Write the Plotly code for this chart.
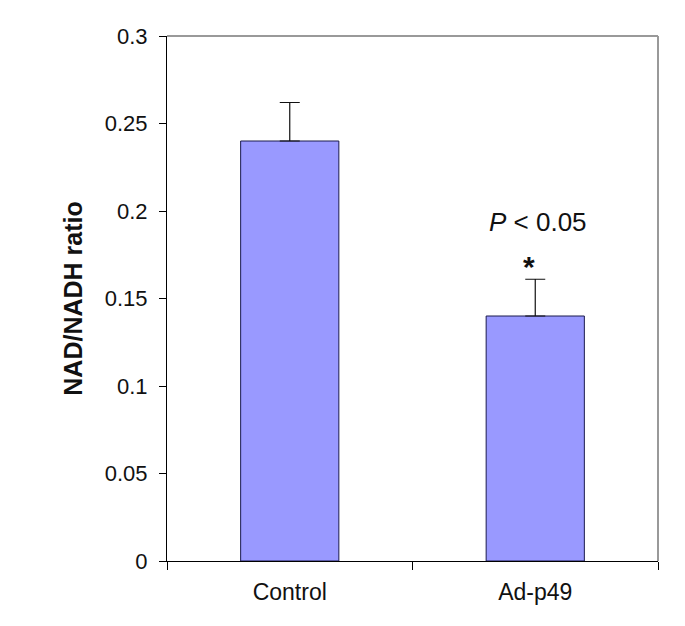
import plotly.graph_objects as go

# NAD/NADH ratio per group
groups = ["Control", "Ad-p49"]
ratio = [0.24, 0.14]
err_up = [0.022, 0.021]

y_ticks = [0, 0.05, 0.1, 0.15, 0.2, 0.25, 0.3]
y_tick_text = ["0", "0.05", "0.1", "0.15", "0.2", "0.25", "0.3"]

FONT = "Liberation Sans, Arial, sans-serif"

fig = go.Figure()
fig.add_trace(go.Bar(
    x=groups, y=ratio, width=0.4,
    marker=dict(color="#9999FF", line=dict(color="#1a1a4d", width=1)),
    error_y=dict(type="data", symmetric=False, array=err_up, arrayminus=[0, 0],
                 color="#111111", thickness=1.2, width=10),
    showlegend=False,
))

# significance marks above Ad-p49
fig.add_annotation(x="Ad-p49", y=0.194, text="<i>P</i> < 0.05", showarrow=False, xshift=3,
                   font=dict(size=26, color="#111111", family=FONT))
fig.add_annotation(x="Ad-p49", y=0.1685, text="<b>*</b>", showarrow=False, xshift=-6,
                   font=dict(size=30, color="#111111", family=FONT))

# grey top/right frame like the original
fig.add_shape(type="line", xref="paper", yref="paper", x0=0, x1=1, y0=1, y1=1,
              line=dict(color="#999999", width=2))
fig.add_shape(type="line", xref="paper", yref="paper", x0=1, x1=1, y0=0, y1=1,
              line=dict(color="#999999", width=2))

# page body adds an 8px margin, so the figure is shrunk by that much
fig.update_layout(
    width=677, height=618,
    margin=dict(l=159, r=27, t=28, b=65),
    plot_bgcolor="white", paper_bgcolor="white",
    font=dict(family=FONT, size=22, color="#111111"),
    bargap=0.6,
)
fig.update_xaxes(showline=True, linecolor="black", linewidth=1.2,
                 ticks="outside", tickson="boundaries", ticklen=8, tickcolor="black",
                 tickfont=dict(size=23), ticklabelstandoff=10, showgrid=False)
fig.update_yaxes(range=[0, 0.3], tickvals=y_ticks, ticktext=y_tick_text,
                 showline=True, linecolor="black", linewidth=1.2,
                 ticks="outside", ticklen=7, tickcolor="black", showgrid=False,
                 zeroline=False, tickfont=dict(size=22), ticklabelstandoff=7,
                 title=dict(text="<b>NAD/NADH ratio</b>", font=dict(size=25), standoff=14))

fig.write_html("out.html")
